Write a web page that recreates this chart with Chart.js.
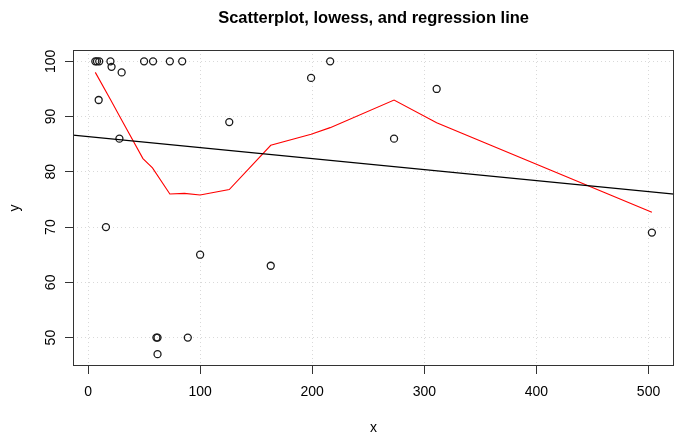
<!DOCTYPE html>
<html>
<head>
<meta charset="utf-8">
<style>
  html, body { margin: 0; padding: 0; background: #ffffff; }
  #wrap { width: 679px; height: 434px; }
</style>
<script src="https://cdn.jsdelivr.net/npm/chart.js@4.4.0/dist/chart.umd.min.js"></script>
</head>
<body>
<div id="wrap"><canvas id="c" width="679" height="434"></canvas></div>
<script>
// ---- data ----
const pointX = [6.5, 8, 10, 20, 21, 30, 9.5, 50, 58, 73, 84, 28, 126, 16, 100, 163, 61, 62, 62, 89, 216, 199, 311, 273, 503];
const pointY = [100, 100, 100, 100, 99, 98, 93, 100, 100, 100, 100, 86, 89, 70, 65, 63, 50, 50, 47, 50, 100, 97, 95, 86, 69];

const lowessX = [6.5, 20, 30, 49, 57.5, 73, 86, 100, 126, 163, 199, 216, 273, 311, 503];
const lowessY = [98, 93.1, 89.4, 82.4, 80.7, 76, 76.1, 75.8, 76.8, 84.8, 86.8, 88, 93, 88.9, 72.7];

const regressionX = [-13.4, 522.9];
const regressionY = [86.65, 75.96];

const xTicks = [0, 100, 200, 300, 400, 500];
const yTicks = [50, 60, 70, 80, 90, 100];

const xRange = [-13.4, 522.9];
const yRange = [44.86, 102.05];

const titleText = "Scatterplot, lowess, and regression line";
const xLabel = "x";
const yLabel = "y";

// ---- build chart ----
const FONT = '"Liberation Sans", Arial, Helvetica, sans-serif';
const zip = (xs, ys) => xs.map((x, i) => ({ x: x, y: ys[i] }));

const decorPlugin = {
  id: 'decor',
  afterDraw(chart) {
    const ctx = chart.ctx;
    const a = chart.chartArea;
    const ys = chart.scales.y;
    ctx.save();
    // plot box
    ctx.strokeStyle = '#333333';
    ctx.lineWidth = 1;
    ctx.setLineDash([]);
    ctx.strokeRect(Math.round(a.left) + 0.5, Math.round(a.top) + 0.5,
                   Math.round(a.right - a.left) - 1, Math.round(a.bottom - a.top) - 1);
    // y tick labels (rotated, as in R)
    ctx.fillStyle = '#000000';
    ctx.font = '14px ' + FONT;
    ctx.textAlign = 'center';
    ctx.textBaseline = 'alphabetic';
    yTicks.forEach(v => {
      const py = ys.getPixelForValue(v);
      ctx.save();
      ctx.translate(54.5, py);
      ctx.rotate(-Math.PI / 2);
      ctx.fillText(String(v), 0, 0);
      ctx.restore();
    });
    // y axis title
    ctx.save();
    ctx.translate(18.9, (a.top + a.bottom) / 2);
    ctx.rotate(-Math.PI / 2);
    ctx.fillText(yLabel, 0, 0);
    ctx.restore();
    // x axis title
    ctx.fillText(xLabel, (a.left + a.right) / 2, 431.5);
    // main title
    ctx.font = 'bold 16.5px ' + FONT;
    ctx.fillText(titleText, (a.left + a.right) / 2, 23);
    ctx.restore();
  }
};

new Chart(document.getElementById('c'), {
  type: 'scatter',
  data: {
    datasets: [
      {
        label: 'points',
        data: zip(pointX, pointY),
        showLine: false,
        pointStyle: 'circle',
        pointRadius: 3.5,
        pointHoverRadius: 3.5,
        pointBorderWidth: 1.3,
        pointBorderColor: '#1a1a1a',
        pointBackgroundColor: 'rgba(0,0,0,0)',
        order: 3
      },
      {
        label: 'lowess',
        type: 'line',
        data: zip(lowessX, lowessY),
        borderColor: '#ff0000',
        borderWidth: 1.1,
        pointRadius: 0,
        tension: 0,
        fill: false,
        order: 2
      },
      {
        label: 'regression',
        type: 'line',
        data: zip(regressionX, regressionY),
        borderColor: '#000000',
        borderWidth: 1.1,
        pointRadius: 0,
        tension: 0,
        fill: false,
        order: 1
      }
    ]
  },
  options: {
    responsive: false,
    animation: false,
    devicePixelRatio: 1,
    events: [],
    layout: { padding: { top: 50, right: 4, left: 0, bottom: 0 } },
    plugins: {
      legend: { display: false },
      title: { display: false },
      tooltip: { enabled: false }
    },
    scales: {
      x: {
        type: 'linear',
        min: xRange[0],
        max: xRange[1],
        afterBuildTicks: (s) => { s.ticks = xTicks.map(v => ({ value: v })); },
        afterFit: (s) => { s.height = 68; },
        grid: {
          color: '#d9d9d9',
          lineWidth: 1,
          drawTicks: true,
          tickLength: 8,
          tickColor: '#333333',
          tickWidth: 1,
          tickBorderDash: []
        },
        border: { display: false, dash: [1, 3] },
        ticks: {
          color: '#000000',
          font: { family: FONT, size: 14 },
          padding: 10,
          maxRotation: 0,
          minRotation: 0,
          callback: (v) => String(v)
        }
      },
      y: {
        type: 'linear',
        min: yRange[0],
        max: yRange[1],
        afterBuildTicks: (s) => { s.ticks = yTicks.map(v => ({ value: v })); },
        afterFit: (s) => { s.width = 73; },
        grid: {
          color: '#d9d9d9',
          lineWidth: 1,
          drawTicks: true,
          tickLength: 8,
          tickColor: '#333333',
          tickWidth: 1,
          tickBorderDash: []
        },
        border: { display: false, dash: [1, 3] },
        ticks: { display: false }
      }
    }
  },
  plugins: [decorPlugin]
});
</script>
</body>
</html>
